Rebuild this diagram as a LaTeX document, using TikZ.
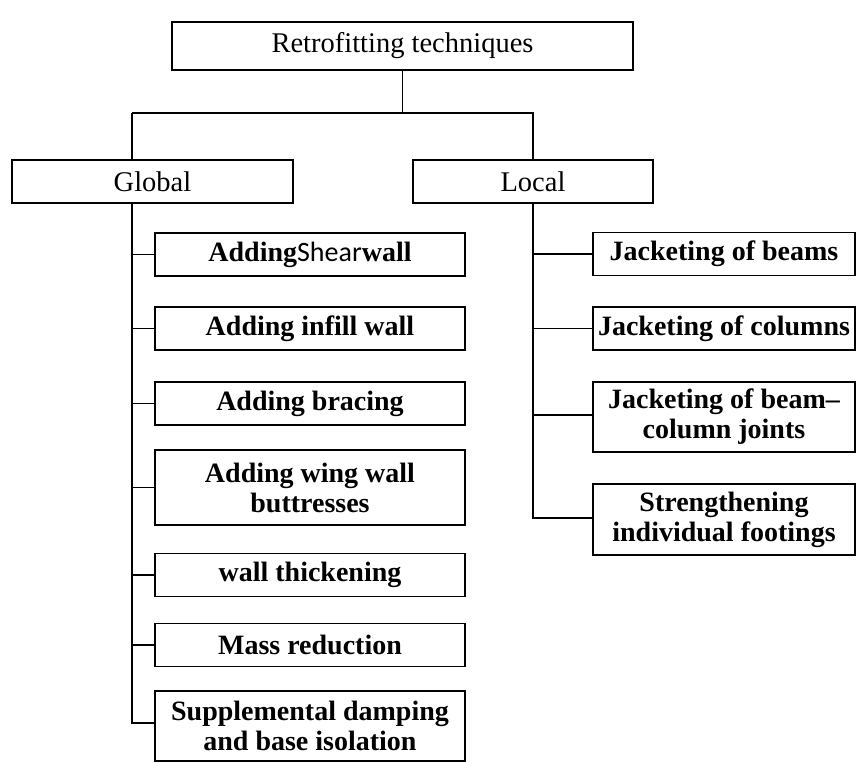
\documentclass[tikz,border=0pt]{standalone}
\usepackage{fontspec}
\setmainfont{Liberation Serif}
\setsansfont{Carlito}
\usetikzlibrary{positioning, calc}

\begin{document}
\begin{tikzpicture}[x=1pt, y=-1pt,
    box/.style={draw, line width=1.2pt, inner sep=2pt, align=center,
        font=\fontsize{28.5}{30}\selectfont},
    gbox/.style={box, minimum width=310pt, minimum height=43pt,
        font=\fontsize{28}{30}\selectfont\bfseries},
    lbox/.style={gbox, minimum width=262pt},
    link/.style={line width=1.2pt}]

\useasboundingbox (0,0) rectangle (858,762);

% === top levels ===
\node[box, minimum width=461pt, minimum height=48pt] (root) at (402.5,46) {Retrofitting techniques};
\node[box, minimum width=281pt, minimum height=43pt] (global) at (152.5,181.5) {Global};
\node[box, minimum width=240pt, minimum height=43pt] (local) at (533,181.5) {Local};

\coordinate (split) at (402.5,113);
\coordinate (gtop) at (132,113);
\draw[link] (root.south) -- (split);
\draw[link] (gtop) -- (split -| local.north) -- (local.north);
\draw[link] (gtop) -- (gtop |- global.north);

% === Global ===
\node[gbox] (shear) at (310,254.5) {Adding{\sffamily\mdseries Shear}wall};
\node[gbox] (infill) at (310,328.5) {Adding infill wall};
\node[gbox] (bracing) at (310,403.5) {Adding bracing};
\node[gbox, minimum height=75pt] (wing) at (310,487.5) {Adding wing wall\\buttresses};
\node[gbox] (thick) at (310,575) {wall thickening};
\node[gbox] (mass) at (310,645) {Mass reduction};
\node[gbox, minimum height=70pt] (damp) at (310,726) {Supplemental damping\\and base isolation};

\coordinate (gtrunk) at (132,723);
\draw[link] (gtop |- global.south) -- (gtrunk) -- (damp.west |- gtrunk);
\foreach \c in {shear, infill, bracing, wing, thick, mass}
    \draw[link] (gtop |- \c.west) -- (\c.west);

% === Local ===
\node[lbox] (beams) at (724,254) {Jacketing of beams};
\node[lbox] (columns) at (724,328.5) {Jacketing of columns};
\node[lbox, minimum height=70pt] (joints) at (724,417) {Jacketing of beam--\\column joints};
\node[lbox, minimum height=71pt] (footings) at (724,519.5) {Strengthening\\individual footings};

\coordinate (ltrunk) at (533,518);
\draw[link] (local.south) -- (ltrunk) -- (footings.west |- ltrunk);
\draw[link] (ltrunk |- joints.west) ++(0,-2) -- ($(joints.west)+(0,-2)$);
\foreach \c in {beams, columns}
    \draw[link] (ltrunk |- \c.west) -- (\c.west);

\end{tikzpicture}
\end{document}
